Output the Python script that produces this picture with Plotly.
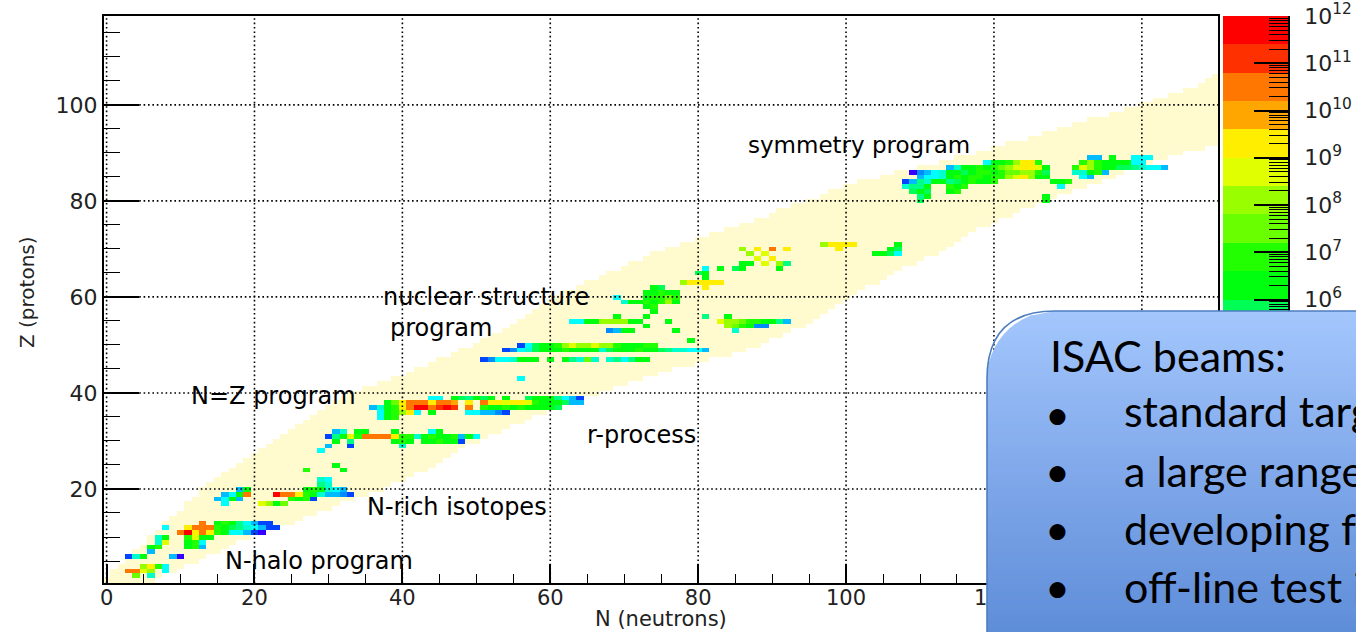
import math
import numpy as np
import plotly.graph_objects as go

# ---------------- data ----------------
# Beam yields: log10(yield) per nuclide, given as runs along N for a proton number Z
# (Z, first N of the run, [log10 yields for N, N+1, ...])
yield_runs = [
    (2, 4, [7.5]), (2, 6, [4.5]),
    (3, 3, [10.5, 10.5, 8.7, 8.1]), (3, 8, [3.9]),
    (4, 5, [8.1, 9.3, 6.9, 3.9]),
    (6, 3, [2.1, 4.5, 6.3]), (6, 9, [3.3, 0.9]),
    (7, 6, [3.3]),
    (8, 6, [6.3, 6.9]), (8, 11, [6.3, 6.9, 3.3]),
    (9, 7, [4.5, 8.7]), (9, 11, [6.3, 6.9, 3.9]),
    (10, 7, [4.5, 6.3]), (10, 11, [6.9, 8.7, 6.3, 6.3]),
    (11, 10, [10.5, 11.7, 9.3, 10.5, 9.3, 6.9, 6.3, 3.9, 3.9, 3.3, 2.1, 0.9]),
    (12, 8, [3.9]), (12, 11, [9.3, 10.5, 10.5, 10.5, 6.9, 6.3, 5.7, 5.1, 4.5, 3.9, 3.3, 2.1, 2.1]),
    (13, 13, [10.5]), (13, 15, [6.3, 6.9, 6.3, 5.1, 3.9, 3.3, 2.1, 2.1]),
    (17, 16, [3.9]), (17, 21, [8.7, 8.1, 6.3, 7.5]),
    (18, 15, [3.3, 3.9, 6.3, 3.3]), (18, 25, [6.9, 6.3, 6.9, 2.1]),
    (19, 16, [3.3, 3.9, 6.3, 10.5]),
    (19, 23, [11.7, 10.5, 10.5, 9.3, 6.9, 6.3, 4.5, 3.3, 3.3, 2.7, 2.1]),
    (20, 18, [3.3, 6.3]), (20, 27, [6.3, 6.9, 6.3, 4.5, 3.9, 3.3]),
    (21, 29, [5.1, 4.5]),
    (22, 29, [4.5, 3.9]),
    (24, 27, [6.9]), (24, 32, [6.3]),
    (25, 31, [6.3]),
    (28, 29, [3.9]),
    (29, 30, [3.3]), (29, 33, [2.1]), (29, 40, [4.5]),
    (30, 31, [6.3]), (30, 33, [5.1]), (30, 39, [6.3, 6.9, 6.3]),
    (30, 43, [6.3, 6.3, 6.9, 6.3, 6.3, 2.1]),
    (31, 30, [2.1, 5.1, 6.3, 8.7, 6.9, 10.5, 10.5, 10.5, 10.5, 9.3, 6.9, 6.9, 4.5,
              6.3, 6.9, 6.3, 6.3, 6.9, 3.3, 6.3, 3.9]),
    (32, 31, [3.3, 4.5]), (32, 34, [6.3, 6.3]), (32, 39, [6.3]), (32, 44, [3.9, 6.3]),
    (35, 37, [3.9, 6.3, 6.9]),
    (36, 37, [3.9, 6.3, 6.9, 8.1, 9.3, 3.9]), (36, 44, [6.3]),
    (36, 49, [3.9, 3.9, 3.3, 3.3, 2.7, 2.1]),
    (37, 36, [3.3, 4.5, 6.3, 6.9, 9.3, 10.5, 11.7, 11.7, 10.5, 11.1, 11.7, 11.1]),
    (37, 49, [10.5]),
    (37, 51, [6.9, 6.3, 6.3, 6.9, 6.3, 6.9, 6.3, 6.3, 6.3, 6.3, 5.7]),
    (38, 38, [6.3, 7.5, 9.3, 10.5, 10.5, 10.5, 9.3, 10.5, 10.5, 9.9]),
    (38, 49, [9.3]),
    (38, 51, [10.5, 9.3, 9.3, 8.7, 9.3, 9.3, 8.7, 6.9, 6.3, 6.3, 6.3, 5.7, 3.3, 3.3]),
    (39, 44, [3.9, 3.9]), (39, 47, [6.3, 5.7, 5.1, 6.3, 5.7, 6.3]), (39, 54, [6.3]),
    (39, 57, [5.7, 6.3, 6.3, 6.3, 5.1, 3.9, 3.3, 2.1]),
    (43, 56, [3.9]),
    (47, 51, [2.1, 2.7, 3.9, 3.9, 4.5, 6.3, 6.3, 6.3]), (47, 60, [6.3]),
    (47, 62, [6.3, 5.1, 4.5, 7.5, 4.5]), (47, 68, [4.5, 5.1, 3.9, 5.1, 6.3, 6.3]),
    (49, 54, [2.1, 2.7, 3.9, 4.5, 5.7, 6.3, 6.3, 6.3, 6.9, 6.3, 6.3, 6.3, 6.3, 4.5,
              5.7, 6.3, 6.3, 6.3, 6.9, 6.3, 6.3, 5.7, 5.1, 4.5, 4.5, 3.9, 3.9, 3.3]),
    (50, 56, [2.1, 3.9, 5.7, 6.3, 6.3, 6.9, 8.1, 8.7, 8.1, 8.1, 8.7, 8.1, 8.1, 6.9,
              6.3, 6.3, 6.3, 6.9, 6.9]),
    (51, 79, [6.3]),
    (53, 68, [2.7, 3.3, 6.3, 6.3]), (53, 77, [6.3]), (53, 85, [4.5]),
    (54, 73, [6.3]), (54, 84, [8.1, 7.5, 6.9, 6.3, 2.7, 2.7]),
    (55, 63, [3.9, 3.9, 6.3, 6.3, 8.1, 8.1, 8.1, 8.1, 6.3, 6.3]), (55, 76, [6.3]),
    (55, 83, [8.7, 8.1, 8.1, 7.5, 6.9, 6.9, 6.3, 6.3, 5.1, 3.3]),
    (56, 69, [6.3]), (56, 73, [6.3]), (56, 81, [5.1]), (56, 84, [6.3]),
    (57, 74, [6.3]),
    (58, 73, [6.3, 6.9]),
    (59, 70, [4.5, 6.3, 6.3, 6.9, 6.3, 6.9, 8.1, 6.3]),
    (60, 69, [3.9]), (60, 73, [6.3, 6.9, 6.9, 7.5, 6.9]),
    (61, 73, [6.3, 6.3, 6.9, 6.3, 6.3]),
    (62, 74, [6.3, 5.7]), (62, 81, [9.3]),
    (63, 78, [8.1, 9.3, 9.3, 9.3, 9.3, 9.3]),
    (64, 81, [6.3]),
    (65, 80, [5.7, 6.3]),
    (66, 81, [3.9]), (66, 83, [6.3]), (66, 85, [5.7, 6.3]), (66, 91, [6.3]),
    (67, 86, [6.3, 6.3]), (67, 89, [8.7]), (67, 91, [8.1, 5.1]),
    (68, 88, [8.7]), (68, 90, [9.3]),
    (69, 87, [8.1]), (69, 89, [8.7]), (69, 104, [6.3, 6.3, 5.7, 3.9]),
    (70, 86, [8.1]), (70, 88, [9.3]), (70, 90, [10.5]), (70, 92, [9.3]), (70, 99, [9.3]),
    (70, 106, [6.3, 5.7]),
    (71, 97, [8.1, 9.3, 9.3, 9.3, 9.3]), (71, 107, [6.3]),
    (80, 110, [5.7]), (80, 127, [6.3]),
    (81, 110, [5.1, 6.3]), (81, 127, [6.3]),
    (82, 109, [5.7, 6.3, 5.7]), (82, 114, [6.3, 6.9]),
    (83, 108, [4.5, 5.1, 5.1, 6.3]), (83, 114, [6.9, 6.3, 6.9]), (83, 129, [3.9]),
    (84, 108, [2.1, 3.3, 5.1, 4.5, 6.3, 6.3, 5.1, 5.7, 6.3, 6.9, 6.3, 6.3, 6.9]),
    (84, 128, [6.3, 6.3, 6.9]),
    (85, 110, [3.3, 3.9, 3.9, 4.5, 6.3, 6.9, 6.3, 6.9, 6.9, 6.3, 6.9, 6.9, 8.1, 8.7,
               9.3, 8.1, 6.3, 6.3]),
    (85, 132, [3.9, 3.3]),
    (86, 109, [0.9, 2.7, 3.3, 3.9, 4.5, 6.3, 6.3, 5.7, 6.3, 6.9, 6.9, 6.3, 6.9, 7.5,
               7.5, 8.1, 8.1, 6.9, 5.7]),
    (86, 131, [4.5, 4.5, 6.3, 6.9, 3.3]),
    (87, 114, [3.3, 4.5, 6.3, 6.3, 6.9, 6.3, 6.9, 7.5, 8.1, 8.7, 9.3, 9.3, 8.7, 6.3]),
    (87, 131, [6.9, 8.7, 8.1, 6.9, 6.3, 6.3, 5.7, 5.7, 5.1, 4.5, 3.9, 3.9, 3.3]),
    (88, 119, [3.9, 6.3, 6.3, 6.9, 8.1, 9.3, 9.3, 6.9]),
    (88, 132, [6.9, 8.1, 6.9, 6.3, 6.3, 6.3, 6.3, 3.9, 3.9]),
    (89, 133, [3.3, 3.3]), (89, 136, [6.3]), (89, 139, [3.9, 3.9, 3.9]),
]

# Known-nuclide band: for Z = 1..106, lowest and highest neutron number
band_Z = list(range(1, 107))
band_Nmin = [0, 1, 1, 2, 3, 3, 4, 5, 6, 6,
             7, 8, 8, 9, 10, 11, 11, 12, 13, 13,
             14, 15, 16, 17, 18, 19, 20, 21, 22, 23,
             24, 25, 26, 27, 28, 29, 30, 31, 32, 33,
             35, 37, 39, 41, 42, 44, 45, 47, 48, 50,
             51, 52, 54, 55, 56, 57, 58, 59, 60, 61,
             62, 64, 65, 67, 68, 70, 71, 73, 74, 76,
             78, 80, 82, 84, 86, 88, 90, 91, 93, 95,
             97, 98, 100, 102, 105, 107, 110, 113, 115, 118,
             120, 122, 125, 127, 129, 131, 133, 136, 138, 140,
             142, 144, 146, 148, 149, 150]
band_Nmax = [6, 7, 9, 10, 12, 13, 15, 16, 17, 19,
             21, 23, 25, 26, 28, 30, 31, 33, 35, 37,
             38, 40, 41, 43, 44, 45, 46, 47, 48, 50,
             51, 53, 54, 56, 57, 59, 61, 64, 64, 66,
             68, 70, 72, 74, 76, 79, 81, 84, 86, 88,
             89, 91, 92, 94, 95, 96, 97, 98, 99, 100,
             101, 102, 104, 105, 106, 107, 109, 110, 112, 113,
             114, 115, 116, 117, 119, 120, 122, 123, 125, 127,
             128, 130, 132, 134, 136, 137, 139, 141, 143, 145,
             148, 150, 150, 150, 150, 150, 150, 150, 150, 150,
             150, 150, 150, 150, 150, 150]

# colour scale: 20 contour levels over 10^0 .. 10^12 (log10 units)
level_colors = ["#6300FF", "#3300FF", "#0014FF", "#0044FF", "#008BFF",
                "#00BBFF", "#00FFFC", "#00FFCC", "#00FF85", "#00FF55",
                "#00FF0E", "#22FF00", "#69FF00", "#99FF00", "#E0FF00",
                "#FFEE00", "#FFA700", "#FF7700", "#FF3000", "#FF0000"]
log_min, log_max = 0, 12
cbar_exponents = list(range(0, 13))
cbar_labelled = list(range(6, 13))          # labels not hidden by the call-out box

x_ticks = list(range(0, 141, 20))
x_labelled = list(range(0, 121, 20))        # 140 lies under the call-out box
y_ticks = list(range(20, 101, 20))

region_labels = [
    ("symmetry program", 86.5, 91.6),
    ("nuclear structure", 37.1, 59.9),
    ("program", 38.0, 53.5),
    ("N=Z program", 11.2, 39.3),
    ("r-process", 64.7, 31.2),
    ("N-rich isotopes", 35.0, 16.2),
    ("N-halo program", 15.7, 5.1),
]

box_title = "ISAC beams:"
box_bullets = ["standard targets (SiC, TiC, Nb, Ta, UC<sub>x</sub>)",
               "a large range of isotopes and elements",
               "developing further target materials",
               "off-line test ion source facility"]

# ---------------- layout geometry ----------------
W, H = 1356, 632
ML, MR, MT, MB = 104, 68, 16, 49
PW = W - ML - MR
PH = H - MT - MB


def pxx(px):
    return (px - ML) / PW


def pxy(py):
    return (H - MB - py) / PH


N_axis = np.arange(0, 151)
Z_axis = np.arange(1, 119)

zb = np.full((len(Z_axis), len(N_axis)), np.nan)
for Z, n0, n1 in zip(band_Z, band_Nmin, band_Nmax):
    zb[Z - 1, n0:n1 + 1] = 1.0

zy = np.full((len(Z_axis), len(N_axis)), np.nan)
for Z, n0, vals in yield_runs:
    for k, v in enumerate(vals):
        zy[Z - 1, n0 + k] = v

nlev = len(level_colors)
cscale = []
for i, c in enumerate(level_colors):
    cscale.append([i / nlev, c])
    cscale.append([(i + 1) / nlev, c])

fig = go.Figure()
band_color = "#FFFBCF"
fig.add_trace(go.Heatmap(x=N_axis, y=Z_axis, z=zb, colorscale=[[0, band_color], [1, band_color]],
                         showscale=False, hoverinfo="skip", zmin=0, zmax=1))
fig.add_trace(go.Heatmap(x=N_axis, y=Z_axis, z=zy, colorscale=cscale, zmin=log_min, zmax=log_max,
                         showscale=False, hoverinfo="skip"))

step = (log_max - log_min) / nlev
lev_centers = [log_min + (i + 0.5) * step for i in range(nlev)]
fig.add_trace(go.Heatmap(x=[0.5], y=lev_centers, z=[[v] for v in lev_centers], colorscale=cscale,
                         zmin=log_min, zmax=log_max, showscale=False, hoverinfo="skip",
                         xaxis="x2", yaxis="y2"))

axis_font = dict(family="DejaVu Sans", size=21, color="#222")
fig.update_layout(
    width=W, height=H,
    margin=dict(l=ML, r=MR, t=MT, b=MB, pad=0),
    paper_bgcolor="white", plot_bgcolor="white",
    showlegend=False,
    xaxis=dict(domain=[0, pxx(1218)], range=[-0.35, 150.3], tickmode="array", tickvals=x_ticks,
               ticktext=[str(v) if v in x_labelled else "" for v in x_ticks],
               ticks="inside", ticklen=19, tickwidth=1.5, tickcolor="black",
               minor=dict(dtick=5, tick0=0, ticks="inside", ticklen=9, tickwidth=1.2,
                          tickcolor="black", showgrid=False),
               showgrid=False, zeroline=False, showline=True, mirror=True, linecolor="black",
               linewidth=2, tickfont=axis_font, ticklabelstandoff=-5,
               layer="above traces", automargin=False),
    yaxis=dict(domain=[0, 1], range=[0.42, 118.5], tickmode="array", tickvals=y_ticks,
               ticks="inside", ticklen=35, tickwidth=1.5, tickcolor="black",
               minor=dict(dtick=5, tick0=0, ticks="inside", ticklen=16, tickwidth=1.2,
                          tickcolor="black", showgrid=False),
               showgrid=False, zeroline=False, showline=True, mirror=True, linecolor="black",
               linewidth=2, tickfont=dict(family="DejaVu Sans", size=22, color="#222"),
               layer="above traces", automargin=False),
    xaxis2=dict(domain=[pxx(1223), pxx(1288)], range=[0, 1], anchor="y2", visible=False,
                automargin=False),
    yaxis2=dict(domain=[0, 1], range=[log_min, log_max], anchor="x2", side="right",
                tickmode="array", tickvals=cbar_exponents,
                ticktext=["10<sup>%d</sup>" % e if e in cbar_labelled else "" for e in cbar_exponents],
                ticks="inside", ticklen=34, tickwidth=1.5, tickcolor="black",
                minor=dict(tickmode="array",
                           tickvals=[e + math.log10(m) for e in cbar_exponents[:-1] for m in range(2, 10)],
                           ticks="inside", ticklen=19, tickwidth=1.2, tickcolor="black"),
                showgrid=False, zeroline=False, showline=True, linecolor="black", linewidth=1.5,
                tickfont=dict(family="DejaVu Sans", size=22, color="#222"),
                ticklabelstandoff=10, layer="above traces", automargin=False),
)

shapes = []
grid_line = dict(color="black", width=1.6, dash="1.6px,2.8px")
for v in x_ticks:
    shapes.append(dict(type="line", xref="x", yref="y domain", x0=v, x1=v, y0=0, y1=1,
                       line=grid_line, layer="above"))
for v in y_ticks:
    shapes.append(dict(type="line", xref="x domain", yref="y", x0=0, x1=1, y0=v, y1=v,
                       line=grid_line, layer="above"))

# rounded call-out box with vertical gradient
bx, by, br = 987, 311, 68
bottom, right = 700, 1420
c_top, c_mid, c_bot = (163, 198, 252), (128, 168, 234), (94, 141, 216)


def box_left(y):
    if y >= by + br:
        return bx
    d = by + br - y
    return bx + br - math.sqrt(max(br * br - d * d, 0))


def mix(t):
    if t < 0.5:
        a, b, u = c_top, c_mid, t / 0.5
    else:
        a, b, u = c_mid, c_bot, (t - 0.5) / 0.5
    return "rgb(%d,%d,%d)" % tuple(round(a[i] + (b[i] - a[i]) * u) for i in range(3))


nstrip = 90
ys = np.linspace(by, bottom, nstrip + 1)
for i in range(nstrip):
    y0, y1 = ys[i], ys[i + 1] + 0.8
    xl0, xl1 = box_left(y0), box_left(min(y1, bottom))
    path = "M %.5f,%.5f L %.5f,%.5f L %.5f,%.5f L %.5f,%.5f Z" % (
        pxx(xl0), pxy(y0), pxx(right), pxy(y0), pxx(right), pxy(y1), pxx(xl1), pxy(y1))
    shapes.append(dict(type="path", xref="paper", yref="paper", path=path,
                       fillcolor=mix((ys[i] - by) / (H - by)), line=dict(width=0), layer="above"))
outline = "M %.5f,%.5f L %.5f,%.5f Q %.5f,%.5f %.5f,%.5f L %.5f,%.5f" % (
    pxx(bx), pxy(bottom), pxx(bx), pxy(by + br), pxx(bx), pxy(by), pxx(bx + br), pxy(by),
    pxx(right), pxy(by))
shapes.append(dict(type="path", xref="paper", yref="paper", path=outline,
                   line=dict(color="#4F7EC0", width=1.6), layer="above"))
fig.update_layout(shapes=shapes)

ann = []
label_sizes = {"symmetry program": 23}
for text, nx, zz in region_labels:
    ann.append(dict(text=text, x=nx, y=zz, xref="x", yref="y", xanchor="left", yanchor="middle",
                    showarrow=False,
                    font=dict(family="DejaVu Sans", size=label_sizes.get(text, 24), color="black")))
ann.append(dict(text="N (neutrons)", x=pxx(661), y=pxy(619), xref="paper", yref="paper",
                showarrow=False, xanchor="center", yanchor="middle",
                font=dict(family="DejaVu Sans", size=21, color="#222")))
ann.append(dict(text="Z (protons)", x=pxx(27), y=pxy(292), xref="paper", yref="paper",
                showarrow=False, xanchor="center", yanchor="middle", textangle=-90,
                font=dict(family="DejaVu Sans", size=20, color="#222")))
box_font = dict(family="Lato", size=43, color="black")
ann.append(dict(text=box_title, x=pxx(1048), y=pxy(355), xref="paper", yref="paper",
                showarrow=False, xanchor="left", yanchor="middle", font=box_font))
for i, t in enumerate(box_bullets):
    yc = 413 + i * 57.7
    ann.append(dict(text="\u2022", x=pxx(1057), y=pxy(yc), xref="paper", yref="paper",
                    showarrow=False, xanchor="center", yanchor="middle", font=box_font))
    ann.append(dict(text=t, x=pxx(1122), y=pxy(yc), xref="paper", yref="paper",
                    showarrow=False, xanchor="left", yanchor="middle", font=box_font))
fig.update_layout(annotations=ann)

fig.write_html("out.html")
